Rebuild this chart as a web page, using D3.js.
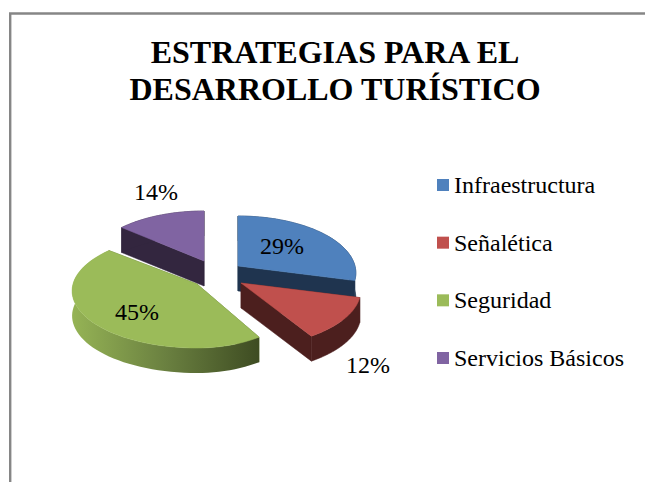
<!DOCTYPE html>
<html><head><meta charset="utf-8">
<script src="https://cdn.jsdelivr.net/npm/d3@7/dist/d3.min.js"></script>
<style>html,body{margin:0;padding:0;background:#fff}svg{display:block}text{font-family:"Liberation Serif",serif;fill:#000}</style>
</head><body><svg id="c" width="645" height="482"></svg>
<script>
const categories = ["Infraestructura","Señalética","Seguridad","Servicios Básicos"];
const values = [29,12,45,14];
const labels = ["29%","12%","45%","14%"];
const topColors = ["#4F81BD","#C0504D","#9BBB59","#8064A2"];
const wallColors = ["#1F344F","#4C1F1E","#5F7336","#33263F"];

const svg = d3.select("#c");
svg.append("path").attr("d","M10.2 482V13.5H645").attr("fill","none").attr("stroke","#868686").attr("stroke-width",2.4);

const titleLines = ["ESTRATEGIAS PARA EL","DESARROLLO TURÍSTICO"];
svg.selectAll("text.t").data(titleLines).join("text").attr("class","t")
  .attr("x",335).attr("y",(d,i)=>[63,100][i]).attr("text-anchor","middle")
  .attr("font-weight","bold").attr("font-size",32).text(d=>d);

const defs = svg.append("defs");
const g = defs.append("linearGradient").attr("id","gw").attr("gradientUnits","userSpaceOnUse")
  .attr("x1",73).attr("x2",259).attr("y1",0).attr("y2",0);
g.append("stop").attr("offset",0).attr("stop-color","#95B355");
g.append("stop").attr("offset",0.5).attr("stop-color","#6A8040");
g.append("stop").attr("offset",1).attr("stop-color","#3E4C22");

const K = 57, P = 0.123, DEPTH = 25;
// exploded apex of each slice on the screen, and its radius to the left / right
const apexes = [[238,266],[241,283],[197,284],[204,261]];
const radii = [[117,117],[119,119],[124,105],[116,116]];
const order = [3,0,1,2];
const arcs = d3.pie().sort(null)(values);
const line = d3.line();

function pt(i,a,rf,dz){
  const X = Math.sin(a)*rf, Y = -Math.cos(a)*rf, s = 1+P*Y;
  const r = X<0 ? radii[i][0] : radii[i][1];
  return [apexes[i][0]+X*r*s, apexes[i][1]+Y*K*s+(dz||0)];
}
const plot = svg.append("g");
order.forEach(i=>{
  const a = arcs[i];
  const angles = d3.range(0,61).map(j=>a.startAngle+(a.endAngle-a.startAngle)*j/60);
  const wall = wallColors[i];
  const apex = pt(i,0,0,0), apexB = pt(i,0,0,DEPTH);
  const s = pt(i,a.startAngle,1,0), sB = pt(i,a.startAngle,1,DEPTH);
  const e = pt(i,a.endAngle,1,0), eB = pt(i,a.endAngle,1,DEPTH);
  plot.append("path").attr("d",line([apex,s,sB,apexB])+"Z").attr("fill",wall).attr("stroke",wall).attr("stroke-width",.5);
  plot.append("path").attr("d",line([apex,e,eB,apexB])+"Z").attr("fill",wall).attr("stroke",wall).attr("stroke-width",.5);
  const topArc = angles.map(t=>pt(i,t,1,0));
  const botArc = angles.map(t=>pt(i,t,1,DEPTH)).reverse();
  plot.append("path").attr("d",line(topArc.concat(botArc))+"Z")
    .attr("fill",i===2?"url(#gw)":wall).attr("stroke",i===2?"none":wall).attr("stroke-width",.5);
  plot.append("path").attr("d",line([apex].concat(topArc))+"Z")
    .attr("fill",topColors[i]).attr("stroke",topColors[i]).attr("stroke-width",.5);
});

const labelPos = [[282,254],[368,373],[137,320],[156,200]];
svg.selectAll("text.l").data(labels).join("text").attr("class","l")
  .attr("x",(d,i)=>labelPos[i][0]).attr("y",(d,i)=>labelPos[i][1])
  .attr("text-anchor","middle").attr("font-size",24).text(d=>d);

const legendY = d3.scalePoint().domain(categories).range([185,358]);
const lg = svg.selectAll("g.k").data(categories).join("g").attr("class","k")
  .attr("transform",d=>`translate(0,${legendY(d)})`);
lg.append("rect").attr("x",437).attr("y",-6).attr("width",12).attr("height",12).attr("fill",(d,i)=>topColors[i]);
lg.append("text").attr("x",454).attr("y",8).attr("font-size",24).text(d=>d);
</script></body></html>
